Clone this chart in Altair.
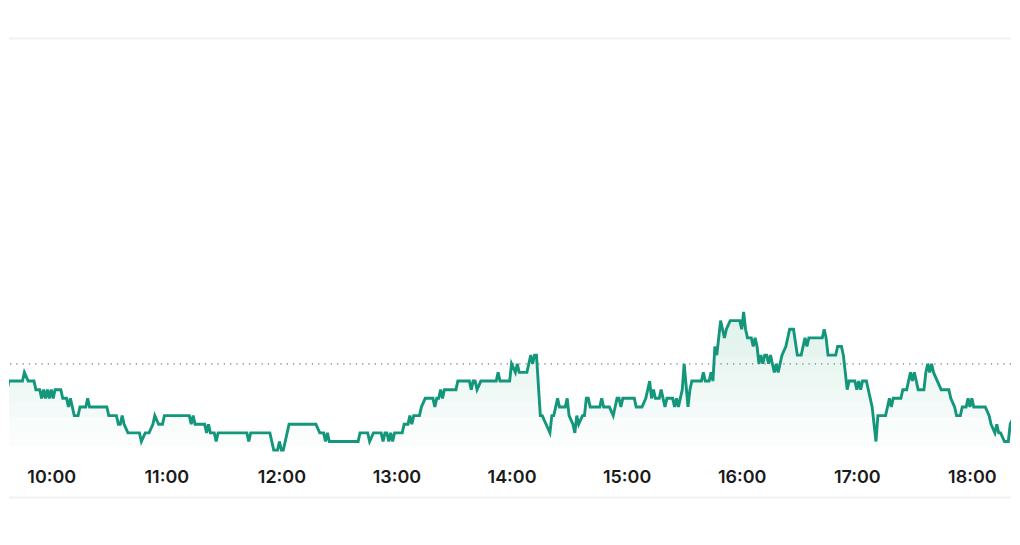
import altair as alt
import pandas as pd

day = "2024-03-15"
prev_close = 8.45
hour_labels = ["10:00", "11:00", "12:00", "13:00", "14:00", "15:00", "16:00", "17:00", "18:00"]

times_09 = ["09:34", "09:36", "09:38", "09:45", "09:46", "09:48", "09:51", "09:52", "09:54", "09:55",
            "09:56", "09:57", "09:58", "09:59"]
prices_09 = [8.41, 8.41, 8.43, 8.43, 8.44, 8.43, 8.43, 8.42, 8.42, 8.41,
             8.42, 8.41, 8.42, 8.41]

times_10 = ["10:00", "10:01", "10:02", "10:05", "10:06", "10:08", "10:09", "10:10", "10:11", "10:12",
            "10:14", "10:15", "10:18", "10:19", "10:20", "10:29", "10:30", "10:34", "10:35", "10:36",
            "10:37", "10:38", "10:40", "10:46", "10:47", "10:49", "10:51", "10:53", "10:54", "10:56",
            "10:58", "10:59"]
prices_10 = [8.42, 8.41, 8.42, 8.42, 8.41, 8.41, 8.40, 8.41, 8.40, 8.39,
             8.39, 8.40, 8.40, 8.41, 8.40, 8.40, 8.39, 8.39, 8.38, 8.38,
             8.39, 8.38, 8.37, 8.37, 8.36, 8.37, 8.37, 8.38, 8.39, 8.38,
             8.38, 8.39]

times_11 = ["11:12", "11:13", "11:14", "11:15", "11:20", "11:21", "11:22", "11:23", "11:25", "11:26",
            "11:27", "11:42", "11:43", "11:44", "11:54", "11:56", "11:58", "11:59"]
prices_11 = [8.39, 8.38, 8.39, 8.38, 8.38, 8.37, 8.38, 8.37, 8.37, 8.36,
             8.37, 8.37, 8.36, 8.37, 8.37, 8.35, 8.35, 8.36]

times_12 = ["12:00", "12:01", "12:02", "12:03", "12:04", "12:18", "12:20", "12:22", "12:23", "12:24",
            "12:25", "12:40", "12:41", "12:45", "12:46", "12:48", "12:52", "12:53", "12:54", "12:55",
            "12:56", "12:57", "12:58", "12:59"]
prices_12 = [8.35, 8.35, 8.36, 8.37, 8.38, 8.38, 8.37, 8.37, 8.36, 8.37,
             8.36, 8.36, 8.37, 8.37, 8.36, 8.37, 8.37, 8.36, 8.37, 8.37,
             8.36, 8.37, 8.36, 8.37]

times_13 = ["13:03", "13:04", "13:06", "13:07", "13:08", "13:09", "13:12", "13:13", "13:15", "13:19",
            "13:20", "13:21", "13:22", "13:23", "13:24", "13:25", "13:31", "13:32", "13:38", "13:39",
            "13:40", "13:41", "13:42", "13:44", "13:52", "13:53", "13:54", "13:59"]
prices_13 = [8.37, 8.38, 8.38, 8.39, 8.38, 8.39, 8.39, 8.40, 8.41, 8.41,
             8.40, 8.41, 8.41, 8.42, 8.41, 8.42, 8.42, 8.43, 8.43, 8.42,
             8.43, 8.43, 8.42, 8.43, 8.43, 8.44, 8.43, 8.43]

times_14 = ["14:00", "14:02", "14:03", "14:04", "14:08", "14:09", "14:10", "14:11", "14:12", "14:13",
            "14:15", "14:16", "14:18", "14:20", "14:21", "14:22", "14:24", "14:25", "14:28", "14:29",
            "14:30", "14:32", "14:33", "14:34", "14:35", "14:37", "14:38", "14:39", "14:40", "14:41",
            "14:46", "14:47", "14:48", "14:51", "14:53", "14:54", "14:55", "14:56", "14:57", "14:58"]
prices_14 = [8.45, 8.44, 8.45, 8.44, 8.44, 8.45, 8.46, 8.45, 8.46, 8.46,
             8.39, 8.39, 8.38, 8.37, 8.39, 8.39, 8.41, 8.40, 8.40, 8.41,
             8.39, 8.38, 8.37, 8.39, 8.38, 8.39, 8.39, 8.41, 8.41, 8.40,
             8.40, 8.41, 8.40, 8.40, 8.39, 8.40, 8.41, 8.41, 8.40, 8.41]

times_15 = ["15:04", "15:05", "15:08", "15:10", "15:12", "15:13", "15:14", "15:15", "15:17", "15:18",
            "15:19", "15:20", "15:21", "15:24", "15:25", "15:26", "15:27", "15:28", "15:29", "15:30",
            "15:32", "15:33", "15:34", "15:39", "15:40", "15:41", "15:43", "15:44", "15:45", "15:46",
            "15:47", "15:48", "15:49", "15:50", "15:51", "15:52", "15:54", "15:59"]
prices_15 = [8.41, 8.40, 8.40, 8.41, 8.43, 8.41, 8.42, 8.41, 8.41, 8.42,
             8.41, 8.40, 8.41, 8.41, 8.40, 8.41, 8.40, 8.41, 8.42, 8.45,
             8.40, 8.42, 8.43, 8.43, 8.44, 8.43, 8.43, 8.44, 8.43, 8.47,
             8.46, 8.48, 8.50, 8.49, 8.48, 8.49, 8.50, 8.50]

times_16 = ["16:00", "16:01", "16:02", "16:03", "16:05", "16:06", "16:07", "16:08", "16:09", "16:10",
            "16:11", "16:12", "16:13", "16:14", "16:15", "16:16", "16:17", "16:18", "16:19", "16:20",
            "16:21", "16:23", "16:24", "16:25", "16:27", "16:29", "16:31", "16:33", "16:34", "16:35",
            "16:42", "16:43", "16:44", "16:45", "16:49", "16:50", "16:52", "16:53", "16:55", "16:56",
            "16:59"]
prices_16 = [8.49, 8.51, 8.49, 8.48, 8.48, 8.47, 8.48, 8.47, 8.45, 8.46,
             8.45, 8.46, 8.46, 8.45, 8.46, 8.45, 8.44, 8.45, 8.44, 8.45,
             8.46, 8.47, 8.48, 8.49, 8.49, 8.46, 8.46, 8.48, 8.47, 8.48,
             8.48, 8.49, 8.48, 8.46, 8.46, 8.47, 8.47, 8.46, 8.42, 8.43,
             8.43]

times_17 = ["17:00", "17:01", "17:02", "17:03", "17:05", "17:06", "17:08", "17:10", "17:11", "17:15",
            "17:16", "17:17", "17:18", "17:19", "17:23", "17:24", "17:26", "17:27", "17:28", "17:29",
            "17:30", "17:31", "17:32", "17:35", "17:36", "17:37", "17:38", "17:39", "17:40", "17:42",
            "17:44", "17:48", "17:49", "17:51", "17:52", "17:54", "17:55", "17:57", "17:58", "17:59"]
prices_17 = [8.42, 8.43, 8.42, 8.43, 8.43, 8.42, 8.40, 8.36, 8.39, 8.39,
             8.40, 8.41, 8.40, 8.41, 8.41, 8.42, 8.42, 8.43, 8.44, 8.43,
             8.44, 8.43, 8.42, 8.42, 8.44, 8.45, 8.44, 8.45, 8.44, 8.43,
             8.42, 8.42, 8.41, 8.40, 8.39, 8.39, 8.40, 8.40, 8.41, 8.40]

times_18 = ["18:00", "18:01", "18:07", "18:09", "18:10", "18:12", "18:13", "18:14", "18:15", "18:17",
            "18:19", "18:20", "18:22", "18:23", "18:25"]
prices_18 = [8.41, 8.40, 8.40, 8.39, 8.38, 8.37, 8.38, 8.37, 8.37, 8.36,
             8.36, 8.38, 8.39, 8.38, 8.38]

times = (times_09 + times_10 + times_11 + times_12 + times_13 + times_14
         + times_15 + times_16 + times_17 + times_18)
prices = (prices_09 + prices_10 + prices_11 + prices_12 + prices_13 + prices_14
          + prices_15 + prices_16 + prices_17 + prices_18)
assert len(times) == len(prices)

# style: vertical fade of the fill under the line (band upper edge in price units, colour)
fade_edges = [9.0, 8.4928, 8.4754, 8.4581, 8.4408, 8.4234, 8.4061, 8.3887, 8.3714, 8.3540]
fade_colors = ["#dff1ec", "#e3f3ee", "#e6f4f0", "#eaf6f2", "#edf7f4",
               "#f1f9f7", "#f4faf9", "#f8fcfb", "#fbfdfd", "#ffffff"]

df = pd.DataFrame({"time": [f"{day}T{t}:00" for t in times], "price": prices})
ref_df = pd.DataFrame({"prev_close": [prev_close]})
frame_df = pd.DataFrame({"k": [0]})


def dt(hm, s=0):
    h, m = (int(v) for v in hm.split(":"))
    return alt.DateTime(year=2024, month=3, date=15, hours=h, minutes=m, seconds=s)


W, H = 1004, 426
x_scale = alt.Scale(domain=[dt("09:37", 59), dt("18:20", 24)])
y_scale = alt.Scale(domain=[8.3344, 8.8269], zero=False, nice=False)

x_axis = alt.Axis(
    values=[dt(h) for h in hour_labels], format="%H:%M", title=None, grid=False,
    domain=False, ticks=False, tickSize=0, labelPadding=14, labelBaseline="middle",
    labelFont="Inter", labelFontSize=18, labelFontWeight=600, labelColor="#1a1a1a",
    labelFlush=False,
)

base = alt.Chart(df).encode(
    x=alt.X("time:T", scale=x_scale, axis=x_axis),
)

fill_layers = []
for edge, col in zip(fade_edges, fade_colors):
    fill_layers.append(
        base.transform_calculate(top=f"min(datum.price, {edge})")
        .mark_area(clip=True, color=col, opacity=1)
        .encode(y=alt.Y("top:Q", scale=y_scale, axis=None), y2=alt.value(H))
    )

line = base.mark_line(clip=True, color="#13967a", strokeWidth=2.9).encode(
    y=alt.Y("price:Q", scale=y_scale, axis=None))

top_rule = alt.Chart(frame_df).mark_rule(color="#f1f1f1", strokeWidth=2).encode(
    x=alt.value(0), x2=alt.value(W), y=alt.value(0))
bottom_rule = alt.Chart(frame_df).mark_rule(color="#f1f1f1", strokeWidth=2).encode(
    x=alt.value(0), x2=alt.value(W), y=alt.value(460))

ref_rule = alt.Chart(ref_df).mark_rule(color="#7d7d7d", strokeDash=[1.3, 5], strokeWidth=1.3).encode(
    y=alt.Y("prev_close:Q", scale=y_scale, axis=None))

chart = alt.layer(*fill_layers, top_rule, bottom_rule, ref_rule, line).properties(
    width=W, height=H,
    padding={"top": 29, "left": 0, "right": 0, "bottom": 0},
    background="white",
).configure_view(stroke=None)

chart.save("out.html", embed_options={"renderer": "svg", "actions": False})
